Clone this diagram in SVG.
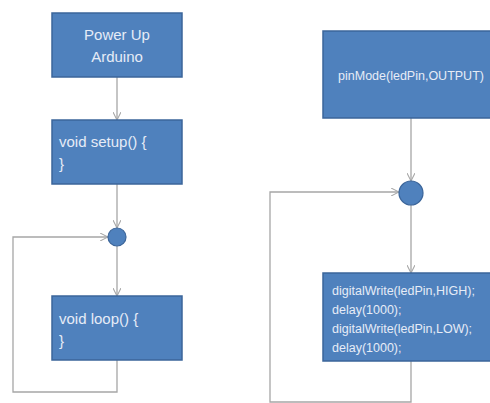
<svg xmlns="http://www.w3.org/2000/svg" width="490" height="403" viewBox="0 0 490 403">
  <style>
    .box { fill: #4f81bd; stroke: #3b659a; stroke-width: 1.5; }
    .dot { fill: #4f81bd; stroke: #3b659a; stroke-width: 1.2; }
    .lbl { font-family: "Liberation Sans", Arial, sans-serif; fill: #e6ecf7; }
    .big { font-size: 15px; }
    .small { font-size: 12.5px; }
    .wire { fill: none; stroke: #a6a6a6; stroke-width: 1.3; }
  </style>
  <defs>
    <marker id="vee" viewBox="0 0 10 10" refX="10" refY="5" markerWidth="8" markerHeight="8" orient="auto" markerUnits="userSpaceOnUse">
      <path d="M0,0 L10,5 L0,10" fill="none" stroke="#a6a6a6" stroke-width="1.3"/>
    </marker>
  </defs>
  <rect width="490" height="403" fill="#ffffff"/>

  <!-- connectors -->
  <g id="connectors">
    <line class="wire" x1="117" y1="77" x2="117" y2="120" marker-end="url(#vee)"/>
    <line class="wire" x1="117" y1="184" x2="117" y2="228" marker-end="url(#vee)"/>
    <line class="wire" x1="117" y1="246" x2="117" y2="296" marker-end="url(#vee)"/>
    <path class="wire" d="M117,360 V392 H13 V237 H108" marker-end="url(#vee)"/>
    <line class="wire" x1="411" y1="118" x2="411" y2="181" marker-end="url(#vee)"/>
    <line class="wire" x1="411" y1="205" x2="411" y2="273" marker-end="url(#vee)"/>
    <path class="wire" d="M411,361 V402 H270 V192 H399" marker-end="url(#vee)"/>
  </g>

  <!-- left flow -->
  <g id="power-up">
    <rect class="box" x="52" y="13" width="130" height="64"/>
    <text class="lbl big" x="117" y="40" text-anchor="middle">Power Up</text>
    <text class="lbl big" x="117" y="62" text-anchor="middle">Arduino</text>
  </g>
  <g id="setup">
    <rect class="box" x="52" y="120" width="130" height="64"/>
    <text class="lbl big" x="59" y="147">void setup() {</text>
    <text class="lbl big" x="59" y="169">}</text>
  </g>
  <g id="join-left">
    <circle class="dot" cx="117" cy="237" r="9"/>
  </g>
  <g id="loop">
    <rect class="box" x="52" y="296" width="130" height="64"/>
    <text class="lbl big" x="59" y="324">void loop() {</text>
    <text class="lbl big" x="59" y="346">}</text>
  </g>

  <!-- right flow -->
  <g id="pin-mode">
    <rect class="box" x="323" y="31" width="170" height="87"/>
    <text class="lbl small" x="411" y="80" text-anchor="middle">pinMode(ledPin,OUTPUT)</text>
  </g>
  <g id="join-right">
    <circle class="dot" cx="411" cy="193" r="12"/>
  </g>
  <g id="blink">
    <rect class="box" x="323" y="273" width="170" height="88"/>
    <text class="lbl small" x="332" y="295">digitalWrite(ledPin,HIGH);</text>
    <text class="lbl small" x="332" y="314">delay(1000);</text>
    <text class="lbl small" x="332" y="333">digitalWrite(ledPin,LOW);</text>
    <text class="lbl small" x="332" y="352">delay(1000);</text>
  </g>
</svg>
